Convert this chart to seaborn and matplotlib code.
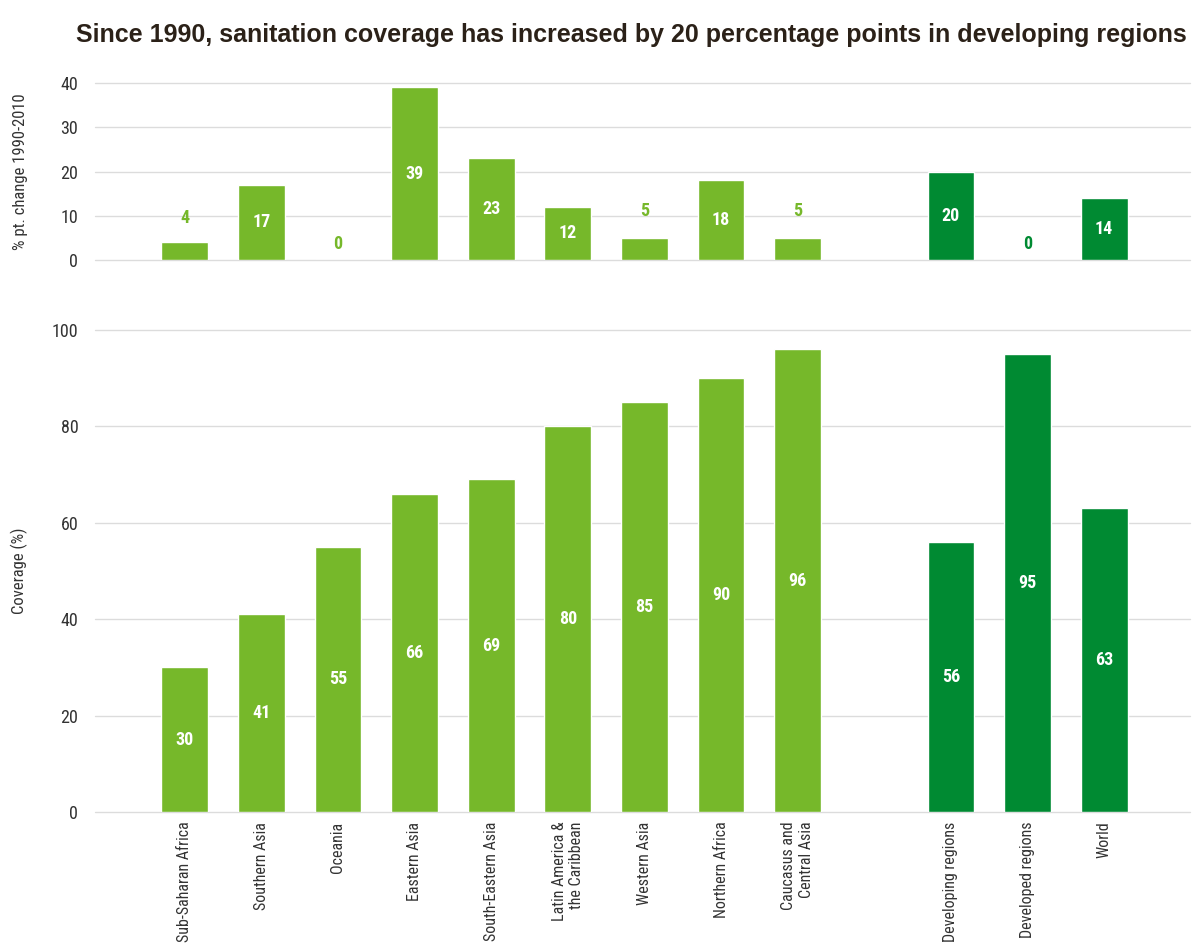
import matplotlib
matplotlib.use("Agg")
import matplotlib.pyplot as plt
import seaborn as sns
import numpy as np
import pandas as pd

# data
regions = ["Sub-Saharan Africa", "Southern Asia", "Oceania", "Eastern Asia",
           "South-Eastern Asia", "Latin America &\nthe Caribbean", "Western Asia",
           "Northern Africa", "Caucasus and\nCentral Asia", " ",
           "Developing regions", "Developed regions", "World"]
change = [4, 17, 0, 39, 23, 12, 5, 18, 5, np.nan, 20, 0, 14]
coverage = [30, 41, 55, 66, 69, 80, 85, 90, 96, np.nan, 56, 95, 63]
is_aggregate = [False] * 10 + [True] * 3

light = "#76b82a"
dark = "#008a32"
palette = {r: (dark if agg else light) for r, agg in zip(regions, is_aggregate)}

sns.set_style("white")
plt.rcParams['font.family'] = ['Roboto Condensed', 'DejaVu Sans']

df = pd.DataFrame({"region": regions, "change": change, "coverage": coverage})

fig = plt.figure(figsize=(11.98, 9.47), dpi=100)
ax1 = fig.add_axes([0.0793, 0.7254, 0.914, 0.1869])
ax2 = fig.add_axes([0.0793, 0.1426, 0.914, 0.509])


def draw(ax, col, ymax, step, small):
    sns.barplot(data=df, x="region", y=col, hue="region", order=regions,
                hue_order=regions, palette=palette, legend=False,
                width=0.61, saturation=1, ax=ax, zorder=3)
    ax.set_ylim(0, ymax)
    ax.set_xlim(-1.17, 13.12)
    ax.set_yticks(np.arange(0, ymax + 1, step))
    ax.yaxis.grid(True, color="#dcdcdc", lw=1, zorder=0)
    for g in ax.get_ygridlines():
        g.set_clip_on(False)
    ax.set_axisbelow(True)
    for s in ax.spines.values():
        s.set_visible(False)
    ax.tick_params(axis="both", length=0, labelsize=13, labelcolor="#333333")
    ax.tick_params(axis="y", pad=12)
    for i, v in enumerate(df[col]):
        if np.isnan(v):
            continue
        c = dark if is_aggregate[i] else light
        if v >= small:
            ax.text(i, v / 2, f"{v:g}", ha="center", va="center", color="white",
                    fontsize=13, fontweight="bold", zorder=4)
        else:
            ax.text(i, v + 1.5 + 0.5 * v, f"{v:g}", ha="center", va="bottom",
                    color=c, fontsize=13, fontweight="bold", zorder=4)


draw(ax1, "change", 40, 10, 10)
draw(ax2, "coverage", 100, 20, 10)

ax1.set_xticklabels([])
ax1.set_xlabel("")
ax1.set_ylabel("% pt. change 1990-2010", fontsize=12, color="#333333")
ax2.set_xlabel("")
ax2.set_ylabel("Coverage (%)", fontsize=12, color="#333333")
ax2.set_xticks(range(len(regions)))
ax2.set_xticklabels(regions, rotation=90, ha="center", va="top",
                    multialignment="right", fontsize=11.5)
ax2.tick_params(axis="x", pad=7)
ax1.yaxis.set_label_coords(-0.061, 0.5)
ax2.yaxis.set_label_coords(-0.061, 0.5)

fig.text(0.527, 0.963,
         "Since 1990, sanitation coverage has increased by 20 percentage points in developing regions",
         ha="center", va="center", fontsize=18, fontweight="bold",
         color="#2b2118", family=["Liberation Sans", "DejaVu Sans"])

fig.savefig("out.png", dpi=100)
